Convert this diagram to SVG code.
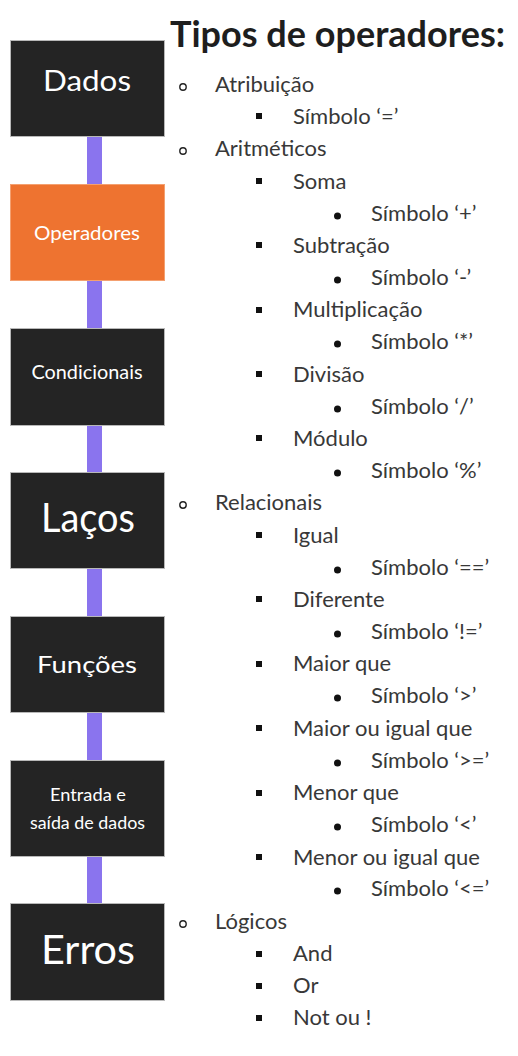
<svg xmlns="http://www.w3.org/2000/svg" width="518" height="1056" viewBox="0 0 518 1056">
  <style>
    .box { fill: #242424; stroke: #b8b8b8; stroke-width: 1; }
    .box.active { fill: #ee7330; stroke: #f4a070; }
    .lbl { font-family: Lato, "Open Sans", sans-serif; fill: #ffffff; text-anchor: middle; }
    .title { font-family: Lato, "Noto Sans", sans-serif; font-weight: 700; font-size: 36px; fill: #1e1e1e; }
    .li { font-family: Lato, "Open Sans", sans-serif; font-size: 22px; fill: #383838; }
    .link { fill: #8a74ee; }
    .b1 { fill: none; stroke: #222; stroke-width: 1.4; }
    .b2 { fill: #111; }
    .b3 { fill: #111; }
  </style>

  <rect width="518" height="1056" fill="#ffffff"/>

  <!-- vertical links between the topic boxes -->
  <g id="connectors">
    <rect class="link" x="87" y="137" width="15" height="47"/>
    <rect class="link" x="87" y="281" width="15" height="47"/>
    <rect class="link" x="87" y="426" width="15" height="46"/>
    <rect class="link" x="87" y="569" width="15" height="47"/>
    <rect class="link" x="87" y="713" width="15" height="47"/>
    <rect class="link" x="87" y="857" width="15" height="46"/>
  </g>

  <g id="node-dados">
    <rect class="box" x="10.5" y="40.5" width="154" height="96"/>
    <text class="lbl" x="87" y="91" font-size="29" textLength="88" lengthAdjust="spacingAndGlyphs">Dados</text>
  </g>
  <g id="node-operadores">
    <rect class="box active" x="10.5" y="184.5" width="154" height="96"/>
    <text class="lbl" x="87" y="240" font-size="20" textLength="106" lengthAdjust="spacingAndGlyphs">Operadores</text>
  </g>
  <g id="node-condicionais">
    <rect class="box" x="10.5" y="328.5" width="154" height="97"/>
    <text class="lbl" x="87" y="379" font-size="20" textLength="111" lengthAdjust="spacingAndGlyphs">Condicionais</text>
  </g>
  <g id="node-lacos">
    <rect class="box" x="10.5" y="472.5" width="154" height="96"/>
    <text class="lbl" x="88" y="532" font-size="41" textLength="94" lengthAdjust="spacingAndGlyphs">Laços</text>
  </g>
  <g id="node-funcoes">
    <rect class="box" x="10.5" y="616.5" width="154" height="96"/>
    <text class="lbl" x="87" y="673" font-size="24" textLength="100" lengthAdjust="spacingAndGlyphs">Funções</text>
  </g>
  <g id="node-entrada-saida">
    <rect class="box" x="10.5" y="760.5" width="154" height="96"/>
    <text class="lbl" x="88" y="801" font-size="18" textLength="76" lengthAdjust="spacingAndGlyphs">Entrada e</text>
    <text class="lbl" x="87.5" y="829" font-size="18" textLength="115" lengthAdjust="spacingAndGlyphs">saída de dados</text>
  </g>
  <g id="node-erros">
    <rect class="box" x="10.5" y="903.5" width="154" height="97"/>
    <text class="lbl" x="88" y="964" font-size="41" textLength="94" lengthAdjust="spacingAndGlyphs">Erros</text>
  </g>

  <!-- heading -->
  <text class="title" x="170" y="47" textLength="335" lengthAdjust="spacingAndGlyphs">Tipos de operadores:</text>

  <!-- operator list: level 1 (o), level 2 (square), level 3 (dot) -->
  <g id="operator-list">
    <circle class="b1" cx="183" cy="87" r="3.2"/><text class="li" x="215" y="92">Atribuição</text>
    <rect class="b2" x="256" y="113" width="6" height="6"/><text class="li" x="293" y="124">Símbolo ‘=’</text>
    <circle class="b1" cx="183" cy="151" r="3.2"/><text class="li" x="215" y="156">Aritméticos</text>
    <rect class="b2" x="256" y="178" width="6" height="6"/><text class="li" x="293" y="189">Soma</text>
    <circle class="b3" cx="337.5" cy="216" r="3.5"/><text class="li" x="371" y="221">Símbolo ‘+’</text>
    <rect class="b2" x="256" y="242" width="6" height="6"/><text class="li" x="293" y="253">Subtração</text>
    <circle class="b3" cx="337.5" cy="280" r="3.5"/><text class="li" x="371" y="285">Símbolo ‘-’</text>
    <rect class="b2" x="256" y="307" width="6" height="6"/><text class="li" x="293" y="317">Multiplicação</text>
    <circle class="b3" cx="337.5" cy="344" r="3.5"/><text class="li" x="371" y="349">Símbolo ‘*’</text>
    <rect class="b2" x="256" y="371" width="6" height="6"/><text class="li" x="293" y="382">Divisão</text>
    <circle class="b3" cx="337.5" cy="409" r="3.5"/><text class="li" x="371" y="414">Símbolo ‘/’</text>
    <rect class="b2" x="256" y="435" width="6" height="6"/><text class="li" x="293" y="446">Módulo</text>
    <circle class="b3" cx="337.5" cy="473" r="3.5"/><text class="li" x="371" y="478">Símbolo ‘%’</text>
    <circle class="b1" cx="183" cy="505" r="3.2"/><text class="li" x="215" y="510">Relacionais</text>
    <rect class="b2" x="256" y="532" width="6" height="6"/><text class="li" x="293" y="543">Igual</text>
    <circle class="b3" cx="337.5" cy="570" r="3.5"/><text class="li" x="371" y="575">Símbolo ‘==’</text>
    <rect class="b2" x="256" y="596" width="6" height="6"/><text class="li" x="293" y="607">Diferente</text>
    <circle class="b3" cx="337.5" cy="634" r="3.5"/><text class="li" x="371" y="639">Símbolo ‘!=’</text>
    <rect class="b2" x="256" y="661" width="6" height="6"/><text class="li" x="293" y="671">Maior que</text>
    <circle class="b3" cx="337.5" cy="698" r="3.5"/><text class="li" x="371" y="703">Símbolo ‘&gt;’</text>
    <rect class="b2" x="256" y="725" width="6" height="6"/><text class="li" x="293" y="736">Maior ou igual que</text>
    <circle class="b3" cx="337.5" cy="763" r="3.5"/><text class="li" x="371" y="768">Símbolo ‘&gt;=’</text>
    <rect class="b2" x="256" y="790" width="6" height="6"/><text class="li" x="293" y="800">Menor que</text>
    <circle class="b3" cx="337.5" cy="827" r="3.5"/><text class="li" x="371" y="832">Símbolo ‘&lt;’</text>
    <rect class="b2" x="256" y="854" width="6" height="6"/><text class="li" x="293" y="865">Menor ou igual que</text>
    <circle class="b3" cx="337.5" cy="891" r="3.5"/><text class="li" x="371" y="896">Símbolo ‘&lt;=’</text>
    <circle class="b1" cx="183" cy="924" r="3.2"/><text class="li" x="215" y="929">Lógicos</text>
    <rect class="b2" x="256" y="951" width="6" height="6"/><text class="li" x="293" y="961">And</text>
    <rect class="b2" x="256" y="983" width="6" height="6"/><text class="li" x="293" y="993">Or</text>
    <rect class="b2" x="256" y="1015" width="6" height="6"/><text class="li" x="293" y="1025">Not ou !</text>
  </g>
</svg>
